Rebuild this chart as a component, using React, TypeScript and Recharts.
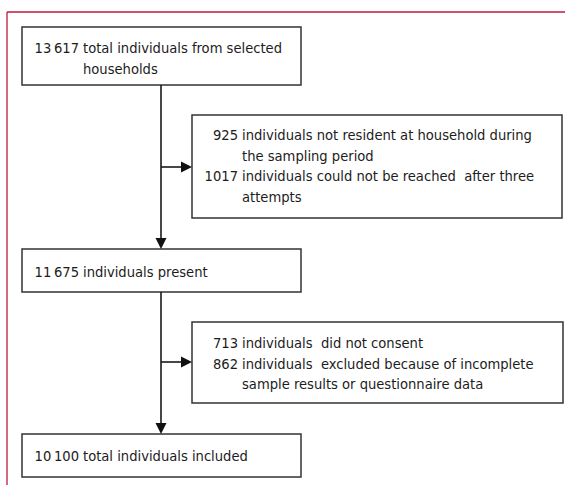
import React from 'react';
import { ComposedChart, XAxis, YAxis, ReferenceArea, ReferenceLine } from 'recharts';

// ---- data ----
const stageCounts = [13617, 11675, 10100];
const stageText = [
  ['total individuals from selected', 'households'],
  ['individuals present'],
  ['total individuals included'],
];
const exclusionCounts = [
  [925, 1017],
  [713, 862],
];
const exclusionText = [
  [
    ['individuals not resident at household during', 'the sampling period'],
    ['individuals could not be reached  after three', 'attempts'],
  ],
  [
    ['individuals  did not consent'],
    ['individuals  excluded because of incomplete', 'sample results or questionnaire data'],
  ],
];

// ---- layout (chart coordinate space, same as pixels) ----
const W = 565;
const H = 485;
const stageBoxes = [
  { x1: 22, x2: 301, y1: 27, y2: 85, base: 26 },
  { x1: 22, x2: 301, y1: 249, y2: 292, base: 28 },
  { x1: 22, x2: 301, y1: 434, y2: 477, base: 27 },
];
const exclusionBoxes = [
  { x1: 192, x2: 562, y1: 115, y2: 218, base: 25 },
  { x1: 192, x2: 563, y1: 322, y2: 403, base: 26 },
];
const spineX = 161;
const branchY = [167, 362];

const FONT = '"DejaVu Sans Condensed", "Liberation Sans Narrow", sans-serif';
const FS = 14.6;
const LINE = 20.7;
const TEXT_COLOR = '#1c1c1c';
const BOX_STROKE = '#333';
const FRAME = '#c0193f';

const fmt = (n: number) => {
  const s = String(n);
  return s.length > 4 ? s.slice(0, -3) + '\u2009' + s.slice(-3) : s;
};

type Entry = { num: number; lines: string[] };

const BoxText = (props: any) => {
  const { viewBox, entries, numRight, textLeft, base } = props;
  if (!viewBox) return null;
  const x0 = viewBox.x;
  const y0 = viewBox.y;
  const out: any[] = [];
  let row = 0;
  (entries as Entry[]).forEach((e, i) => {
    const y = y0 + base + row * LINE;
    out.push(
      <text key={'n' + i} x={x0 + numRight} y={y} textAnchor="end" fontFamily={FONT} fontSize={FS} fill={TEXT_COLOR}>
        {fmt(e.num)}
      </text>
    );
    e.lines.forEach((ln, j) => {
      out.push(
        <text
          key={'t' + i + '-' + j}
          x={x0 + textLeft}
          y={y0 + base + (row + j) * LINE}
          fontFamily={FONT}
          fontSize={FS}
          fill={TEXT_COLOR}
          style={{ whiteSpace: 'pre' }}
        >
          {ln}
        </text>
      );
    });
    row += e.lines.length;
  });
  return <g>{out}</g>;
};

const Arrow = (props: any) => {
  const { x1, y1, x2, y2 } = props;
  const dx = x2 - x1;
  const dy = y2 - y1;
  const len = Math.sqrt(dx * dx + dy * dy) || 1;
  const ux = dx / len;
  const uy = dy / len;
  const hl = 11;
  const hw = 5.5;
  const bx = x2 - ux * hl;
  const by = y2 - uy * hl;
  const pts = `${x2},${y2} ${bx - uy * hw},${by + ux * hw} ${bx + uy * hw},${by - ux * hw}`;
  return (
    <g>
      <line x1={x1} y1={y1} x2={bx} y2={by} stroke="#1a1a1a" strokeWidth={1.6} />
      <polygon points={pts} fill="#111" />
    </g>
  );
};

const PlainLine = (props: any) => {
  const { x1, y1, x2, y2 } = props;
  return <line x1={x1} y1={y1} x2={x2} y2={y2} stroke={FRAME} strokeWidth={1.3} />;
};

export default function App() {
  return (
    <div style={{ position: 'absolute', left: 0, top: 0, background: '#fff' }}>
      <ComposedChart width={W} height={H} data={[]} margin={{ top: 0, right: 0, bottom: 0, left: 0 }}>
        <XAxis type="number" dataKey="x" domain={[0, W]} hide allowDataOverflow height={0} />
        <YAxis type="number" dataKey="y" domain={[0, H]} reversed hide allowDataOverflow width={0} />

        {/* frame */}
        <ReferenceLine segment={[{ x: 7, y: 12 }, { x: W, y: 12 }]} shape={PlainLine} ifOverflow="visible" />
        <ReferenceLine segment={[{ x: 7, y: 12 }, { x: 7, y: H }]} shape={PlainLine} ifOverflow="visible" />

        {/* spine arrows */}
        {stageBoxes.slice(0, -1).map((b, i) => (
          <ReferenceLine
            key={'sp' + i}
            segment={[{ x: spineX, y: b.y2 }, { x: spineX, y: stageBoxes[i + 1].y1 }]}
            shape={Arrow}
            ifOverflow="visible"
          />
        ))}
        {exclusionBoxes.map((b, i) => (
          <ReferenceLine
            key={'br' + i}
            segment={[{ x: spineX, y: branchY[i] }, { x: b.x1, y: branchY[i] }]}
            shape={Arrow}
            ifOverflow="visible"
          />
        ))}

        {/* stage boxes */}
        {stageBoxes.map((b, i) => (
          <ReferenceArea
            key={'st' + i}
            x1={b.x1}
            x2={b.x2}
            y1={b.y1}
            y2={b.y2}
            fill="#fff"
            fillOpacity={1}
            stroke={BOX_STROKE}
            strokeWidth={1.5}
            ifOverflow="visible"
            label={
              <BoxText
                entries={[{ num: stageCounts[i], lines: stageText[i] }]}
                numRight={57}
                textLeft={61}
                base={b.base}
              />
            }
          />
        ))}

        {/* exclusion boxes */}
        {exclusionBoxes.map((b, i) => (
          <ReferenceArea
            key={'ex' + i}
            x1={b.x1}
            x2={b.x2}
            y1={b.y1}
            y2={b.y2}
            fill="#fff"
            fillOpacity={1}
            stroke={BOX_STROKE}
            strokeWidth={1.5}
            ifOverflow="visible"
            label={
              <BoxText
                entries={exclusionCounts[i].map((n, k) => ({ num: n, lines: exclusionText[i][k] }))}
                numRight={46}
                textLeft={50}
                base={b.base}
              />
            }
          />
        ))}
      </ComposedChart>
    </div>
  );
}
